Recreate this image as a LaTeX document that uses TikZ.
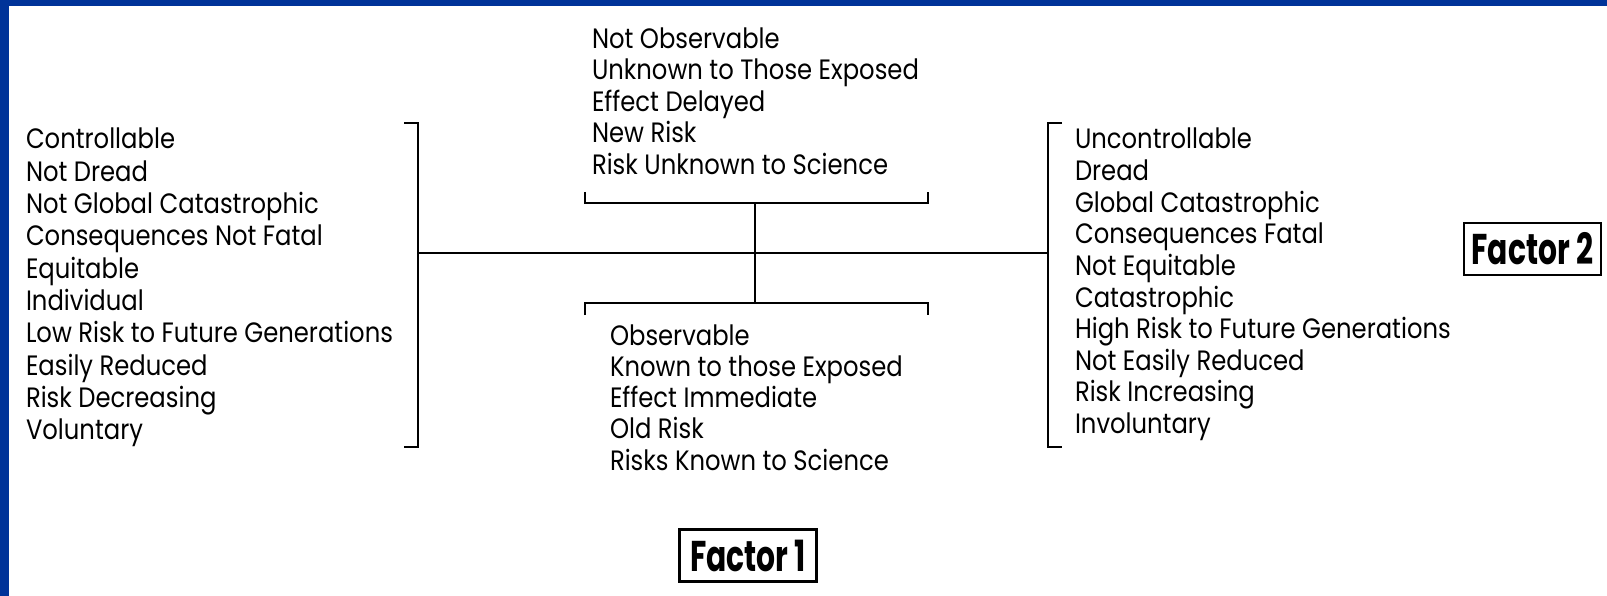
\documentclass[tikz,border=0pt]{standalone}
\usepackage{fontspec}
\setmainfont{Poppins}
\usepackage{graphicx}
\definecolor{slideblue}{RGB}{0,51,153}
\newsavebox\measbox
\newcommand\lstfnt{\fontsize{28}{32}\selectfont}
\newcommand\facfnt{\fontsize{43}{48}\selectfont\bfseries}
\newcommand\ltx[1]{\scalebox{\sxl}[1]{\lstfnt #1}}
\newcommand\ftx[1]{\scalebox{\sxf}[1]{\facfnt #1}}
\tikzset{
  item/.style={anchor=base west, inner sep=0pt, outer sep=0pt, text=black},
  factor/.style={draw=black, line width=2.6pt, minimum width=137pt, minimum height=52pt, inner sep=0pt},
  rule/.style={draw=black, line width=2.7pt, line join=miter, line cap=butt}
}
\begin{document}
\sbox\measbox{\lstfnt Low Risk to Future Generations}%
\pgfmathsetmacro\sxl{367/\the\wd\measbox}%
\sbox\measbox{\facfnt Factor 1}%
\pgfmathsetmacro\sxf{116/\the\wd\measbox}%
\begin{tikzpicture}[x=1pt,y=-1pt]
\useasboundingbox (0,0) rectangle (1607,596);
\fill[white] (0,0) rectangle (1607,596);
\fill[slideblue] (0,0) rectangle (1607,6);
\fill[slideblue] (0,0) rectangle (9,596);

% left list
\foreach \t [count=\i from 0] in {Controllable, Not Dread, Not Global Catastrophic, Consequences Not Fatal, Equitable, Individual, Low Risk to Future Generations, Easily Reduced, Risk Decreasing, Voluntary}
  \node[item] (L\i) at (26,{149+32.3*\i}) {\ltx{\t}};
% top list
\foreach \t [count=\i from 0] in {Not Observable, Unknown to Those Exposed, Effect Delayed, New Risk, Risk Unknown to Science}
  \node[item] (T\i) at (592,{48.5+31.4*\i}) {\ltx{\t}};
% bottom list
\foreach \t [count=\i from 0] in {Observable, Known to those Exposed, Effect Immediate, Old Risk, Risks Known to Science}
  \node[item] (B\i) at (610,{345+31.3*\i}) {\ltx{\t}};
% right list
\foreach \t [count=\i from 0] in {Uncontrollable, Dread, Global Catastrophic, Consequences Fatal, Not Equitable, Catastrophic, High Risk to Future Generations, Not Easily Reduced, Risk Increasing, Involuntary}
  \node[item] (R\i) at (1075,{149+31.6*\i}) {\ltx{\t}};

% factor labels
\node[factor] (F1) at (748,555.5) {\ftx{Factor 1}};
\node[factor] (F2) at (1532.5,249) {\ftx{Factor 2}};

% bracket coordinates
\coordinate (lbA) at (404,123);
\coordinate (lbB) at (418,123);
\coordinate (lbC) at (418,447);
\coordinate (lbD) at (404,447);
\coordinate (rbA) at (1062,123);
\coordinate (rbB) at (1048,123);
\coordinate (rbC) at (1048,447);
\coordinate (rbD) at (1062,447);
\coordinate (mL) at (418,253);
\coordinate (mR) at (1048,253);
\coordinate (tbA) at (585,192);
\coordinate (tbB) at (585,203);
\coordinate (tbC) at (928,203);
\coordinate (tbD) at (928,192);
\coordinate (bbA) at (585,315);
\coordinate (bbB) at (585,303);
\coordinate (bbC) at (928,303);
\coordinate (bbD) at (928,315);
\coordinate (sT) at (755,203);
\coordinate (sB) at (755,303);

\draw[rule] (lbA) -- (lbB) -- (lbC) -- (lbD);
\draw[rule] (rbA) -- (rbB) -- (rbC) -- (rbD);
\draw[rule] (tbA) -- (tbB) -- (tbC) -- (tbD);
\draw[rule] (bbA) -- (bbB) -- (bbC) -- (bbD);
\draw[rule] (mL) -- (mR);
\draw[rule] (sT) -- (sB);
\end{tikzpicture}
\end{document}
